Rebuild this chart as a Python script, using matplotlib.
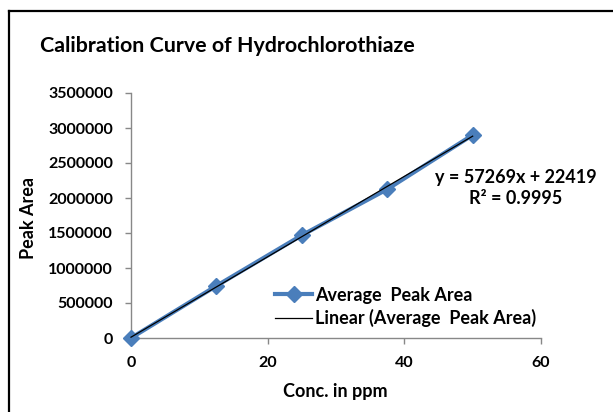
import numpy as np
import matplotlib
matplotlib.use("Agg")
import matplotlib.pyplot as plt
from matplotlib.lines import Line2D

conc = [0, 12.5, 25, 37.5, 50]
peak_area = [0, 745000, 1468000, 2125000, 2900000]
x_ticks = [0, 20, 40, 60]
y_ticks = [0, 500000, 1000000, 1500000, 2000000, 2500000, 3000000, 3500000]
title = "Calibration Curve of Hydrochlorothiaze"
eq_text = "y = 57269x + 22419\nR² = 0.9995"

plt.rcParams['font.family'] = ['Lato', 'DejaVu Sans']
W, H = 613, 412
fig = plt.figure(figsize=(W/100, H/100), dpi=100)
ax = fig.add_axes([131/W, 1-338/H, (541-131)/W, (338-93)/H])

blue = '#4A7EBB'
ax.plot(conc, peak_area, color=blue, lw=3, marker='D', ms=8, mfc=blue, mec=blue, zorder=3,
        clip_on=False)
coef = np.polyfit(conc, peak_area, 1)
xs = np.array([conc[0], conc[-1]])
ax.plot(xs, np.polyval(coef, xs), color='black', lw=0.9, zorder=4, clip_on=False)

ax.set_xlim(0, 60)
ax.set_ylim(0, 3500000)
ax.set_xticks(x_ticks)
ax.set_yticks(y_ticks)
ax.set_xticklabels([str(v) for v in x_ticks], fontsize=11.5, fontweight='bold')
ax.set_yticklabels([str(v) for v in y_ticks], fontsize=11.5, fontweight='bold')
for s in ['top', 'right']:
    ax.spines[s].set_visible(False)
for s in ['left', 'bottom']:
    ax.spines[s].set_color('#888888')
    ax.spines[s].set_linewidth(1)
ax.tick_params(axis='both', colors='#888888', labelcolor='black', length=4, width=1)
ax.tick_params(axis='y', pad=9)
ax.tick_params(axis='x', pad=9)

fig.text(335/W, 1-392/H, "Conc. in ppm", fontsize=13, fontweight='bold', ha='center', va='center')
fig.text(28/W, 1-218/H, "Peak Area", fontsize=13, fontweight='bold', ha='center', va='center',
         rotation=90)

fig.text(40/W, 1-46/H, title, fontsize=15.4, fontweight='bold', va='center', ha='left')
fig.text(516/W, 1-188/H, eq_text, fontsize=13, fontweight='bold', ha='center', va='center',
         linespacing=1.25)

handles = [Line2D([0], [0], color=blue, lw=3, marker='D', ms=8),
           Line2D([0], [0], color='black', lw=0.9)]
leg = fig.legend(handles, ["Average  Peak Area", "Linear (Average  Peak Area)"],
                 loc='center left', bbox_to_anchor=(275/W, 1-307/H), frameon=False,
                 prop={'size': 13, 'weight': 'bold'}, handlelength=2.05, handletextpad=0.17,
                 labelspacing=0.3, borderpad=0, borderaxespad=0)

# outer chart frame (top and left edges visible)
fig.add_artist(Line2D([9/W, 1.0], [1-11/H, 1-11/H], color='black', lw=1.6, transform=fig.transFigure))
fig.add_artist(Line2D([9/W, 9/W], [0, 1-11/H], color='black', lw=1.6, transform=fig.transFigure))

fig.savefig("out.png", dpi=100)
